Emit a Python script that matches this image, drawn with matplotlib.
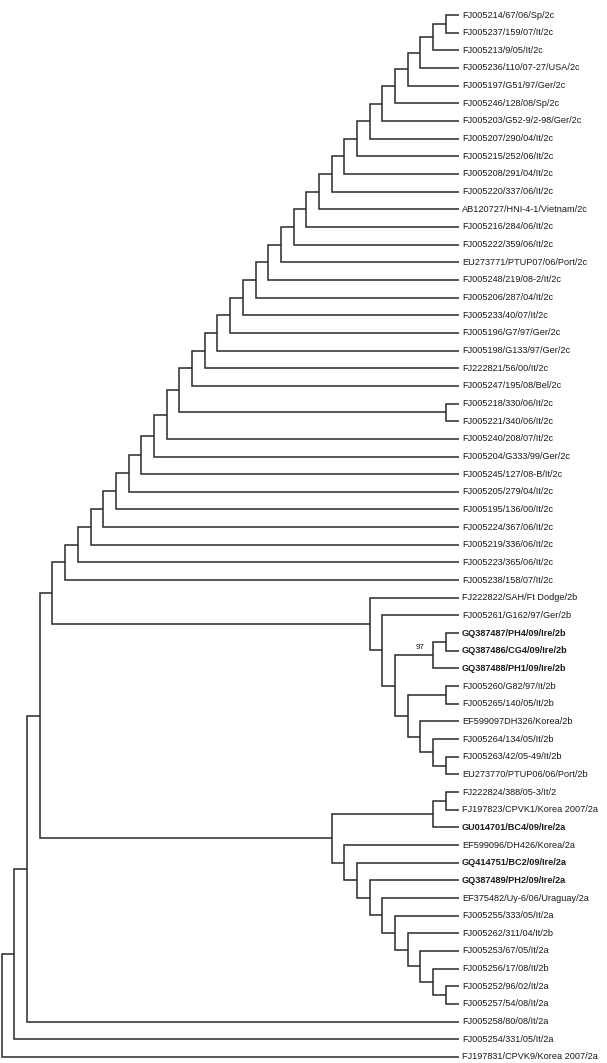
#!/usr/bin/env python3
"""
plot.py - cladogram of strains (2a / 2b / 2c), drawn right-aligned like MEGA's topology view.
"""

import matplotlib
matplotlib.use("Agg")
import matplotlib.pyplot as plt

# --- data ---------------------------------------------------------------
# 2c clade: a ladder, listed from the innermost pair outwards
clade_2c_core = ["FJ005214/67/06/Sp/2c", "FJ005237/159/07/It/2c"]
clade_2c_ladder = [
    "FJ005213/9/05/It/2c",
    "FJ005236/110/07-27/USA/2c",
    "FJ005197/G51/97/Ger/2c",
    "FJ005246/128/08/Sp/2c",
    "FJ005203/G52-9/2-98/Ger/2c",
    "FJ005207/290/04/It/2c",
    "FJ005215/252/06/It/2c",
    "FJ005208/291/04/It/2c",
    "FJ005220/337/06/It/2c",
    "AB120727/HNI-4-1/Vietnam/2c",
    "FJ005216/284/06/It/2c",
    "FJ005222/359/06/It/2c",
    "EU273771/PTUP07/06/Port/2c",
    "FJ005248/219/08-2/It/2c",
    "FJ005206/287/04/It/2c",
    "FJ005233/40/07/It/2c",
    "FJ005196/G7/97/Ger/2c",
    "FJ005198/G133/97/Ger/2c",
    "FJ222821/56/00/It/2c",
    "FJ005247/195/08/Bel/2c",
    "(FJ005218/330/06/It/2c,FJ005221/340/06/It/2c)",
    "FJ005240/208/07/It/2c",
    "FJ005204/G333/99/Ger/2c",
    "FJ005245/127/08-B/It/2c",
    "FJ005205/279/04/It/2c",
    "FJ005195/136/00/It/2c",
    "FJ005224/367/06/It/2c",
    "FJ005219/336/06/It/2c",
    "FJ005223/365/06/It/2c",
    "FJ005238/158/07/It/2c",
]

clade_2b = ("(FJ222822/SAH/Ft Dodge/2b,(FJ005261/G162/97/Ger/2b,"
            "(((GQ387487/PH4/09/Ire/2b,GQ387486/CG4/09/Ire/2b),GQ387488/PH1/09/Ire/2b),"
            "((FJ005260/G82/97/It/2b,FJ005265/140/05/It/2b),"
            "(EF599097DH326/Korea/2b,(FJ005264/134/05/It/2b,"
            "(FJ005263/42/05-49/It/2b,EU273770/PTUP06/06/Port/2b)))))))")

clade_2a = ("(((FJ222824/388/05-3/It/2,FJ197823/CPVK1/Korea 2007/2a),GU014701/BC4/09/Ire/2a),"
            "(EF599096/DH426/Korea/2a,(GQ414751/BC2/09/Ire/2a,(GQ387489/PH2/09/Ire/2a,"
            "(EF375482/Uy-6/06/Uraguay/2a,(FJ005255/333/05/It/2a,(FJ005262/311/04/It/2b,"
            "(FJ005253/67/05/It/2a,(FJ005256/17/08/It/2b,"
            "(FJ005252/96/02/It/2a,FJ005257/54/08/It/2a))))))))))")

outgroups = ["FJ005258/80/08/It/2a", "FJ005254/331/05/It/2a", "FJ197831/CPVK9/Korea 2007/2a"]

bold_tips = [
    "GQ387487/PH4/09/Ire/2b", "GQ387486/CG4/09/Ire/2b", "GQ387488/PH1/09/Ire/2b",
    "GU014701/BC4/09/Ire/2a", "GQ414751/BC2/09/Ire/2a", "GQ387489/PH2/09/Ire/2a",
]

# bootstrap shown on the branch leading to the Irish 2b cluster
bootstrap_tips = ["GQ387487/PH4/09/Ire/2b", "GQ387488/PH1/09/Ire/2b"]
bootstrap_value = "97"


# --- tree helpers --------------------------------------------------------
def build_newick():
    c2 = "(" + ",".join(clade_2c_core) + ")"
    for item in clade_2c_ladder:
        c2 = "(" + c2 + "," + item + ")"
    return ("(((((" + c2 + "," + clade_2b + ")," + clade_2a + "),"
            + outgroups[0] + ")," + outgroups[1] + ")," + outgroups[2] + ")")


def parse_newick(s):
    pos = 0

    def node():
        nonlocal pos
        if s[pos] == "(":
            pos += 1
            kids = [node()]
            while s[pos] == ",":
                pos += 1
                kids.append(node())
            pos += 1  # ')'
            return kids
        start = pos
        while pos < len(s) and s[pos] not in ",()":
            pos += 1
        return s[start:pos]

    return node()


def height(n):
    if isinstance(n, str):
        return 0
    return 1 + max(height(k) for k in n)


def layout(tree):
    max_h = height(tree)
    tips, segs = [], []
    node_pos = {}

    def walk(n):
        if isinstance(n, str):
            y = len(tips)
            tips.append((n, y))
            return float(max_h), float(y), [n]
        x = float(max_h - height(n))
        kids = [walk(k) for k in n]
        ys = [k[1] for k in kids]
        y = (min(ys) + max(ys)) / 2
        # bracket: child1 -> node -> node -> child2
        segs.append([(kids[0][0], kids[0][1]), (x, kids[0][1]),
                     (x, kids[-1][1]), (kids[-1][0], kids[-1][1])])
        for k in kids[1:-1]:
            segs.append([(x, k[1]), (k[0], k[1])])
        leaves = sum((k[2] for k in kids), [])
        node_pos[tuple(leaves)] = (x, y, kids)
        return x, y, leaves

    walk(tree)
    return tips, segs, node_pos, max_h


def main():
    tree = parse_newick(build_newick())
    tips, segs, node_pos, max_h = layout(tree)

    plt.rcParams['font.family'] = ['Liberation Sans', 'DejaVu Sans']

    fig = plt.figure(figsize=(6.07, 10.63), dpi=100)
    ax = fig.add_axes([0, 0, 1, 1])

    line_col = '#2a2a2a'
    for seg in segs:
        xs, ys = zip(*seg)
        ax.plot(xs, ys, color=line_col, linewidth=1.1, solid_joinstyle='miter',
                solid_capstyle='butt')

    for name, y in tips:
        ax.text(max_h + 0.28, y, name, ha='left', va='center', fontsize=6.6,
                fontweight='bold' if name in bold_tips else 'normal', color='#1a1a1a')

    # bootstrap label: find the node whose leaves span the Irish cluster
    for leaves, (x, y, kids) in node_pos.items():
        if leaves[0] == bootstrap_tips[0] and leaves[-1] == bootstrap_tips[-1]:
            ax.annotate(bootstrap_value, xy=(x - 1.0, y), xytext=(0, 3.0),
                        textcoords='offset points', ha='center', va='bottom',
                        fontsize=5.8, color='#1a1a1a')

    # pixel mapping: root at ~1.7 px, 12.69 px per level; first tip 15 px, 17.66 px per tip
    ax.set_xlim(-1.7 / 12.69, (607 - 1.7) / 12.69)
    ax.set_ylim((1063 - 15) / 17.66, -15 / 17.66)
    ax.axis('off')

    fig.savefig("out.png", dpi=100, facecolor='white')
    plt.close(fig)


if __name__ == "__main__":
    main()
